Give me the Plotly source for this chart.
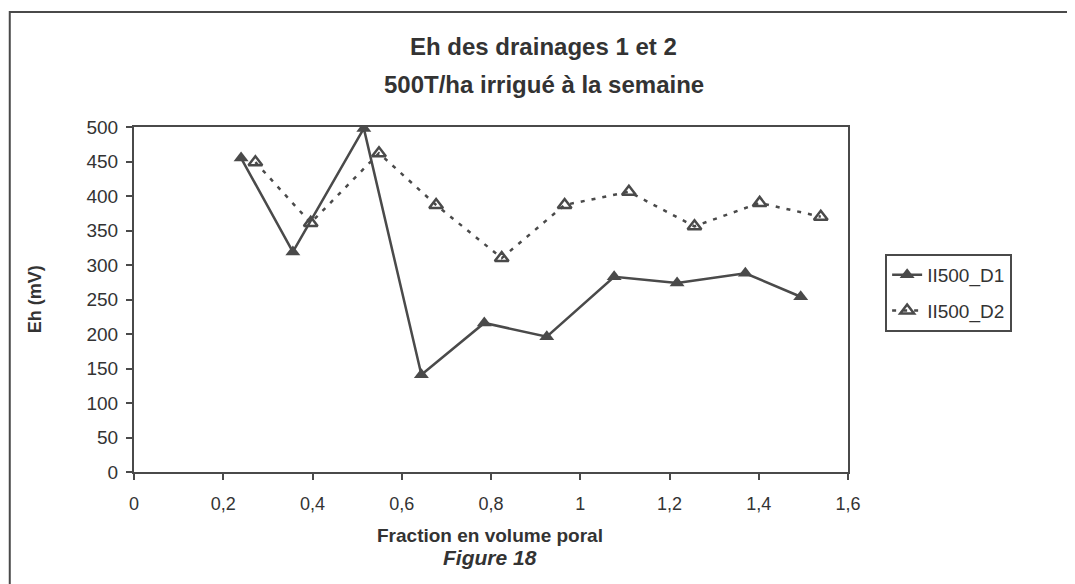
import plotly.graph_objects as go

# données
x_d1 = [0.24, 0.356, 0.515, 0.644, 0.785, 0.925, 1.076, 1.217, 1.37, 1.494]
eh_d1 = [455, 319, 498, 141, 216, 196, 283, 274, 288, 254]

x_d2 = [0.272, 0.396, 0.549, 0.677, 0.824, 0.965, 1.109, 1.256, 1.402, 1.539]
eh_d2 = [449, 361, 462, 387, 310, 387, 406, 356, 390, 370]

gris = "#4a4a4a"
texte = "#333333"
police = "Liberation Sans, Arial, sans-serif"

fig = go.Figure()

fig.add_trace(go.Scatter(
    x=x_d1, y=eh_d1, mode="lines+markers", name="II500_D1", legendgroup="d1",
    line=dict(color=gris, width=2.5),
    marker=dict(symbol="triangle-up", size=13, color=gris),
))
fig.add_trace(go.Scatter(
    x=x_d2, y=eh_d2, mode="lines+markers", name="II500_D2", legendgroup="d2",
    line=dict(color=gris, width=2.5, dash="4px,7px"),
    marker=dict(symbol="triangle-up-open", size=12, color=gris, line=dict(width=2.5, color=gris)),
))

# la page a une marge de 8 px : figure un peu plus petite
fig.update_layout(
    width=1067, height=576,
    margin=dict(l=126, r=227, t=119, b=112),
    paper_bgcolor="white", plot_bgcolor="white",
    separators=", ",
    font=dict(family=police, color=texte, size=17),
    showlegend=True,
    legend=dict(
        x=1.052, y=0.632, xanchor="left", yanchor="top",
        bordercolor=gris, borderwidth=2, bgcolor="white",
        font=dict(size=19, color=texte),
        traceorder="grouped", tracegroupgap=8,
    ),
)

fig.update_xaxes(
    range=[0, 1.6], dtick=0.2, tick0=0,
    showgrid=False, zeroline=False,
    showline=True, linecolor=gris, linewidth=2, mirror=True,
    ticks="outside", ticklen=6, tickcolor=gris, tickwidth=1.5,
    tickfont=dict(size=18), ticklabelstandoff=8,
)
fig.update_yaxes(
    range=[0, 500], dtick=50, tick0=0,
    showgrid=False, zeroline=False,
    showline=True, linecolor=gris, linewidth=2, mirror=True,
    ticks="outside", ticklen=6, tickcolor=gris, tickwidth=1.5,
    tickfont=dict(size=19), ticklabelstandoff=4,
)

# titres
fig.add_annotation(
    text="<b>Eh des drainages 1 et 2</b>", xref="paper", yref="paper",
    x=0.574, y=1.232, xanchor="center", yanchor="middle",
    showarrow=False, font=dict(size=24, color=texte),
)
fig.add_annotation(
    text="<b>500T/ha irrigué à la semaine</b>", xref="paper", yref="paper",
    x=0.574, y=1.122, xanchor="center", yanchor="middle",
    showarrow=False, font=dict(size=24, color=texte),
)
fig.add_annotation(
    text="<b>Eh (mV)</b>", xref="paper", yref="paper", textangle=-90,
    x=-0.139, y=0.5, xanchor="center", yanchor="middle",
    showarrow=False, font=dict(size=18, color=texte),
)
fig.add_annotation(
    text="<b>Fraction en volume poral</b>", xref="paper", yref="paper",
    x=0.499, y=-0.183, xanchor="center", yanchor="middle",
    showarrow=False, font=dict(size=19, color=texte),
)
fig.add_annotation(
    text="<b><i>Figure 18</i></b>", xref="paper", yref="paper",
    x=0.499, y=-0.248, xanchor="center", yanchor="middle",
    showarrow=False, font=dict(size=21, color=texte),
)

# cadre extérieur
fig.add_shape(
    type="rect", xref="paper", yref="paper",
    x0=-0.174, x1=1.31, y0=-0.34, y1=1.333,
    line=dict(color=gris, width=2), layer="below",
)

fig.write_html("out.html")
